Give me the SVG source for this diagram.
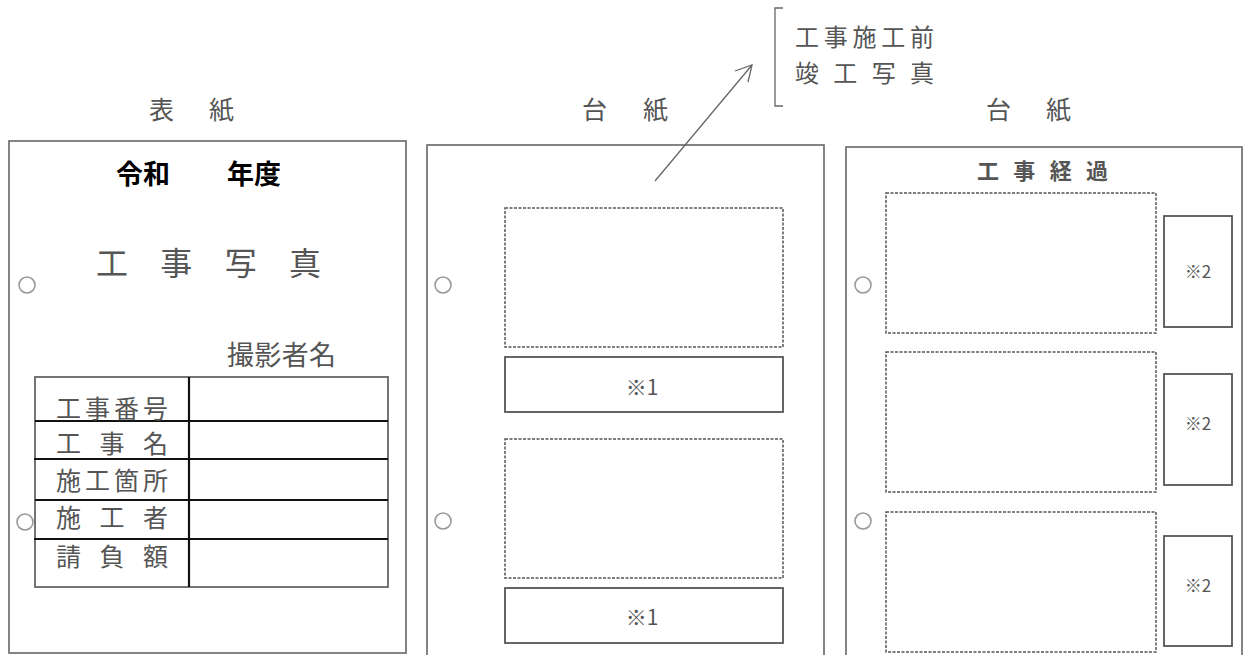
<svg xmlns="http://www.w3.org/2000/svg" width="1248" height="655" viewBox="0 0 1248 655">
<defs>
<style>
.bg{fill:#ffffff}
.page{fill:#ffffff;stroke:#666;stroke-width:1.6}
.hole{fill:none;stroke:#999;stroke-width:1.6}
.dash{fill:none;stroke:#555;stroke-width:1.5;stroke-dasharray:3 1.5}
.box{fill:none;stroke:#555;stroke-width:1.8}
.tline{stroke:#111;stroke-width:2.2}
.tborder{fill:none;stroke:#666;stroke-width:1.8}
.t{font-family:"Noto Sans CJK JP","Noto Sans",sans-serif;fill:#555}
.b{font-family:"Noto Sans CJK JP","Noto Sans",sans-serif;fill:#000;font-weight:bold}
.conn{stroke:#666;stroke-width:1.3;fill:none}
</style>
</defs>
<rect class="bg" x="0" y="0" width="1248" height="655"/>

<g id="captions">
<text class="t" x="149" y="119" font-size="25" textLength="85" lengthAdjust="spacing">表紙</text>
<text class="t" x="582" y="119" font-size="25" textLength="86" lengthAdjust="spacing">台紙</text>
<text class="t" x="986" y="119" font-size="25" textLength="85" lengthAdjust="spacing">台紙</text>
</g>

<g id="note">
<path class="conn" d="M783 8 H775 V106 H783"/>
<text class="t" x="795" y="46" font-size="24" textLength="139" lengthAdjust="spacing">工事施工前</text>
<text class="t" x="795" y="82" font-size="24" textLength="139" lengthAdjust="spacing">竣工写真</text>
</g>

<g id="cover">
<rect class="page" x="9" y="141" width="397" height="512"/>
<circle class="hole" cx="27" cy="285" r="8"/>
<circle class="hole" cx="25" cy="522" r="8"/>
<text class="b" x="116" y="184" font-size="27">令和</text>
<text class="b" x="227" y="184" font-size="27">年度</text>
<text class="t" x="96" y="275" font-size="32" textLength="225" lengthAdjust="spacing">工事写真</text>
<text class="t" x="227" y="365" font-size="27" textLength="109" lengthAdjust="spacing">撮影者名</text>
<g id="table">
<rect class="tborder" x="35" y="377" width="353" height="210"/>
<line class="tline" x1="189" y1="377" x2="189" y2="587"/>
<line class="tline" x1="35" y1="421" x2="388" y2="421"/>
<line class="tline" x1="34" y1="459" x2="388" y2="459"/>
<line class="tline" x1="35" y1="500" x2="388" y2="500"/>
<line class="tline" x1="34" y1="539" x2="388" y2="539"/>
<text class="t" x="56" y="418" font-size="25" textLength="112" lengthAdjust="spacing">工事番号</text>
<text class="t" x="56" y="453" font-size="25" textLength="112" lengthAdjust="spacing">工事名</text>
<text class="t" x="56" y="490" font-size="25" textLength="112" lengthAdjust="spacing">施工箇所</text>
<text class="t" x="56" y="527" font-size="25" textLength="112" lengthAdjust="spacing">施工者</text>
<text class="t" x="56" y="566" font-size="25" textLength="112" lengthAdjust="spacing">請負額</text>
</g>
</g>

<g id="mount1">
<rect class="page" x="427" y="145" width="397" height="520"/>
<circle class="hole" cx="443" cy="285" r="8"/>
<circle class="hole" cx="443" cy="521" r="8"/>
<rect class="dash" x="505" y="208" width="278" height="139"/>
<rect class="box" x="505" y="357" width="278" height="55"/>
<text class="t" x="642" y="395" font-size="21" text-anchor="middle">※1</text>
<rect class="dash" x="505" y="439" width="278" height="139"/>
<rect class="box" x="505" y="588" width="278" height="55"/>
<text class="t" x="642" y="625" font-size="21" text-anchor="middle">※1</text>
</g>

<g id="mount2">
<rect class="page" x="846" y="147" width="396" height="520"/>
<circle class="hole" cx="863" cy="285" r="8"/>
<circle class="hole" cx="863" cy="521" r="8"/>
<text class="t" x="977" y="179" font-size="22" font-weight="bold" textLength="131" lengthAdjust="spacing">工事経過</text>
<rect class="dash" x="886" y="193" width="270" height="140"/>
<rect class="box" x="1164" y="216" width="68" height="111"/>
<text class="t" x="1198" y="278" font-size="17" text-anchor="middle">※2</text>
<rect class="dash" x="886" y="352" width="270" height="140"/>
<rect class="box" x="1164" y="374" width="68" height="111"/>
<text class="t" x="1198" y="430" font-size="17" text-anchor="middle">※2</text>
<rect class="dash" x="886" y="512" width="270" height="140"/>
<rect class="box" x="1164" y="536" width="68" height="110"/>
<text class="t" x="1198" y="592" font-size="17" text-anchor="middle">※2</text>
</g>

<g id="connectors">
<line class="conn" x1="655" y1="181" x2="752" y2="65"/>
<path class="conn" d="M735 71 L752 65 L748 82"/>
</g>
</svg>
